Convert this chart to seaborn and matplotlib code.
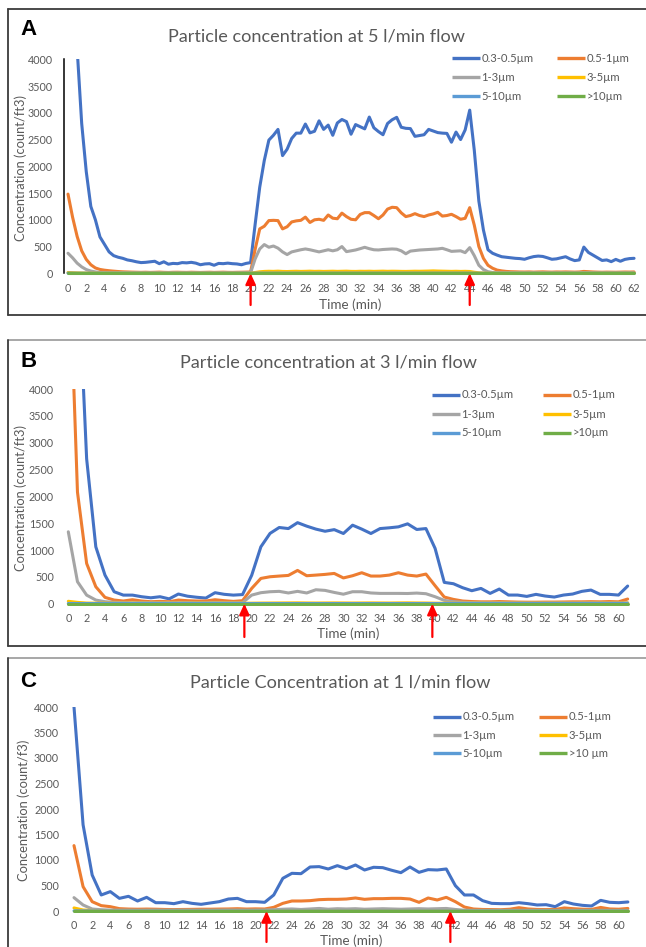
import numpy as np
import pandas as pd
import matplotlib
matplotlib.use("Agg")
import matplotlib.pyplot as plt
import seaborn as sns
from matplotlib.lines import Line2D

# ---------------- data ----------------
size_labels = ["0.3-0.5µm", "0.5-1µm", "1-3µm", "3-5µm", "5-10µm", ">10µm"]
size_labels_C = ["0.3-0.5µm", "0.5-1µm", "1-3µm", "3-5µm", "5-10µm", ">10 µm"]
series_colors = ["#4472C4", "#ED7D31", "#A5A5A5", "#FFC000", "#5B9BD5", "#70AD47"]

panel_letters = ["A", "B", "C"]
titles = ["Particle concentration at 5 l/min flow",
          "Particle concentration at 3 l/min flow",
          "Particle Concentration at 1 l/min flow"]
ylabels = ["Concentration (count/ft3)", "Concentration (count/ft3)",
           "Concentration (count/f3)"]
xlabel = "Time (min)"
y_ticks = [0, 500, 1000, 1500, 2000, 2500, 3000, 3500, 4000]
x_ticks_A = list(range(0, 63, 2))
x_ticks_BC = list(range(0, 61, 2))

time_A = np.arange(0, 62.5, 0.5)
time_B = np.arange(0, 62)
time_C = np.arange(0, 62)

# Panel A (5 l/min), 0.5 min resolution
A_03_05 = [9000, 6500, 4200, 2800, 1900, 1250, 1000, 680, 540, 400,
           330, 300, 280, 250, 235, 215, 200, 205, 215, 225,
           180, 215, 170, 185, 180, 200, 195, 205, 190, 160,
           175, 180, 150, 185, 180, 190, 180, 175, 160, 185,
           200, 920, 1610, 2110, 2490, 2580, 2690, 2200, 2320, 2520,
           2620, 2620, 2790, 2625, 2655, 2850, 2690, 2770, 2580, 2810,
           2875, 2835, 2600, 2780, 2740, 2700, 2920, 2720, 2650, 2590,
           2800, 2870, 2915, 2730, 2710, 2705, 2560, 2575, 2590, 2690,
           2660, 2630, 2620, 2615, 2450, 2640, 2500, 2680, 3050, 2300,
           1350, 810, 440, 375, 340, 310, 300, 290, 280, 275,
           262, 290, 312, 322, 315, 290, 262, 270, 290, 310,
           268, 237, 250, 490, 390, 340, 290, 240, 250, 218,
           260, 225, 260, 275, 280]
A_05_1 = [1480, 1050, 690, 420, 260, 160, 100, 72, 58, 48,
          40, 33, 28, 25, 22, 20, 18, 20, 17, 19,
          22, 18, 16, 19, 20, 18, 17, 20, 18, 16,
          18, 20, 17, 19, 21, 18, 17, 19, 20, 22,
          25, 450, 830, 880, 985, 990, 985, 830, 870, 960,
          980, 990, 1050, 950, 1000, 1010, 990, 1090, 1030, 1020,
          1125, 1060, 1010, 1000, 1100, 1134, 1134, 1080, 1020, 1090,
          1200, 1234, 1227, 1130, 1060, 1080, 1115, 1080, 1060, 1090,
          1110, 1140, 1070, 1080, 1103, 1060, 1010, 1028, 1227, 900,
          500, 280, 150, 95, 60, 45, 35, 30, 28, 25,
          24, 26, 22, 25, 27, 24, 22, 25, 24, 26,
          24, 22, 25, 35, 30, 25, 22, 20, 22, 21,
          20, 22, 24, 23, 25]
A_1_3 = [375, 290, 190, 120, 70, 42, 26, 16, 12, 10,
         9, 8, 10, 9, 8, 10, 9, 8, 9, 10,
         9, 8, 9, 10, 8, 9, 10, 9, 8, 9,
         10, 9, 8, 9, 10, 9, 8, 9, 10, 9,
         10, 270, 456, 537, 487, 510, 470, 400, 350, 400,
         420, 440, 455, 440, 420, 400, 420, 440, 420, 440,
         500, 405, 420, 436, 460, 486, 460, 440, 436, 445,
         450, 455, 450, 420, 365, 415, 425, 435, 440, 445,
         450, 455, 467, 440, 410, 415, 420, 386, 480, 330,
         150, 70, 30, 15, 10, 9, 8, 9, 8, 9,
         8, 9, 10, 8, 9, 8, 9, 8, 9, 8,
         9, 8, 9, 12, 10, 9, 8, 9, 8, 9,
         8, 9, 8, 9, 8]
A_3_5 = [15, 12, 9, 7, 6, 5, 5, 4, 4, 4,
         4, 4, 4, 4, 4, 4, 4, 4, 4, 4,
         4, 4, 4, 4, 4, 4, 4, 4, 4, 4,
         4, 4, 4, 4, 4, 4, 4, 4, 4, 4,
         5, 15, 28, 35, 38, 36, 40, 35, 33, 36,
         38, 35, 37, 40, 36, 38, 35, 37, 39, 36,
         38, 40, 36, 35, 38, 37, 39, 36, 38, 40,
         37, 39, 38, 36, 35, 37, 39, 38, 40, 42,
         45, 42, 40, 38, 36, 38, 35, 37, 34, 20,
         10, 6, 5, 4, 4, 4, 4, 4, 4, 4,
         4, 4, 4, 4, 4, 4, 4, 4, 4, 4,
         4, 4, 4, 4, 4, 4, 4, 4, 4, 4,
         4, 4, 4, 4, 4]
A_5_10 = [3, 3, 2, 2, 2, 2, 2, 2, 2, 2,
          2, 2, 2, 2, 2, 2, 2, 2, 2, 2,
          2, 2, 2, 2, 2, 2, 2, 2, 2, 2,
          2, 2, 2, 2, 2, 2, 2, 2, 2, 2,
          2, 3, 3, 3, 3, 3, 3, 3, 3, 3,
          3, 3, 3, 3, 3, 3, 3, 3, 3, 3,
          3, 3, 3, 3, 3, 3, 3, 3, 3, 3,
          3, 3, 3, 3, 3, 3, 3, 3, 3, 3,
          3, 3, 3, 3, 3, 3, 3, 3, 3, 2,
          2, 2, 2, 2, 2, 2, 2, 2, 2, 2,
          2, 2, 2, 2, 2, 2, 2, 2, 2, 2,
          2, 2, 2, 2, 2, 2, 2, 2, 2, 2,
          2, 2, 2, 2, 2]
A_10 = [0, 0, 0, 0, 0, 0, 0, 0, 0, 0,
        0, 0, 0, 0, 0, 0, 0, 0, 0, 0,
        0, 0, 0, 0, 0, 0, 0, 0, 0, 0,
        0, 0, 0, 0, 0, 0, 0, 0, 0, 0,
        0, 0, 0, 0, 0, 0, 0, 0, 0, 0,
        0, 0, 0, 0, 0, 0, 0, 0, 0, 0,
        0, 0, 0, 0, 0, 0, 0, 0, 0, 0,
        0, 0, 0, 0, 0, 0, 0, 0, 0, 0,
        0, 0, 0, 0, 0, 0, 0, 0, 0, 0,
        0, 0, 0, 0, 0, 0, 0, 0, 0, 0,
        0, 0, 0, 0, 0, 0, 0, 0, 0, 0,
        0, 0, 0, 0, 0, 0, 0, 0, 0, 0,
        0, 0, 0, 0, 0]

# Panel B (3 l/min), 1 min resolution
B_03_05 = [9000, 6500, 2700, 1060, 533, 223, 160, 160, 130, 110,
           130, 90, 180, 140, 120, 105, 205, 175, 160, 170,
           530, 1060, 1310, 1420, 1400, 1510, 1445, 1390, 1350, 1380,
           1308, 1463, 1390, 1308, 1400, 1414, 1432, 1488, 1383, 1400,
           1030, 397, 372, 298, 242, 285, 192, 273, 161, 161,
           136, 174, 143, 124, 161, 180, 230, 254, 174, 174,
           161, 329]
B_05_1 = [7000, 2080, 750, 316, 118, 68, 50, 74, 50, 37,
          43, 37, 68, 56, 50, 50, 74, 56, 43, 56,
          285, 471, 502, 515, 527, 620, 521, 533, 546, 564,
          480, 521, 577, 515, 515, 533, 577, 533, 515, 552,
          335, 124, 80, 50, 40, 35, 35, 40, 35, 30,
          28, 28, 30, 30, 32, 35, 35, 38, 35, 40,
          35, 87]
B_1_3 = [1340, 410, 160, 68, 37, 25, 20, 18, 20, 19,
         18, 20, 19, 21, 18, 19, 22, 20, 19, 20,
         160, 205, 223, 230, 200, 230, 200, 260, 248, 210,
         177, 223, 223, 200, 192, 192, 192, 190, 198, 186,
         130, 62, 37, 25, 20, 18, 17, 18, 16, 17,
         16, 15, 16, 17, 16, 15, 16, 17, 16, 15,
         16, 18]
B_3_5 = [45, 25, 12, 10, 9, 8, 8, 9, 8, 8,
         8, 9, 8, 8, 9, 8, 8, 9, 8, 8,
         10, 12, 13, 14, 15, 16, 14, 13, 14, 15,
         14, 13, 14, 15, 14, 13, 15, 16, 14, 13,
         10, 9, 8, 8, 8, 8, 8, 8, 8, 8,
         8, 8, 8, 8, 8, 8, 8, 8, 8, 8,
         8, 9]
B_5_10 = [4, 3, 3, 3, 3, 3, 3, 3, 3, 3,
          3, 3, 3, 3, 3, 3, 3, 3, 3, 3,
          3, 3, 3, 3, 3, 3, 3, 3, 3, 3,
          3, 3, 3, 3, 3, 3, 3, 3, 3, 3,
          3, 3, 3, 3, 3, 3, 3, 3, 3, 3,
          3, 3, 3, 3, 3, 3, 3, 3, 3, 3,
          3, 3]
B_10 = [2, 2, 2, 2, 2, 2, 2, 2, 2, 2,
        2, 2, 2, 2, 2, 2, 2, 2, 2, 2,
        2, 2, 2, 2, 2, 2, 2, 2, 2, 2,
        2, 2, 2, 2, 2, 2, 2, 2, 2, 2,
        2, 2, 2, 2, 2, 2, 2, 2, 2, 2,
        2, 2, 2, 2, 2, 2, 2, 2, 2, 2,
        2, 2]

# Panel C (1 l/min), 1 min resolution
C_03_05 = [4000, 1690, 706, 314, 380, 248, 288, 196, 268, 163,
           163, 144, 183, 150, 131, 157, 183, 235, 248, 183,
           183, 170, 314, 641, 739, 732, 863, 870, 824, 889,
           830, 902, 804, 857, 850, 798, 752, 863, 758, 811,
           804, 824, 497, 314, 314, 203, 150, 144, 144, 163,
           144, 118, 124, 85, 183, 137, 111, 98, 209, 170,
           163, 177]
C_05_1 = [1282, 477, 183, 105, 85, 46, 38, 35, 38, 35,
          30, 28, 30, 32, 35, 35, 38, 40, 45, 38,
          42, 39, 72, 150, 196, 196, 203, 222, 229, 229,
          235, 255, 229, 242, 242, 248, 248, 235, 170, 255,
          216, 268, 183, 78, 39, 30, 28, 25, 35, 65,
          40, 30, 28, 30, 60, 45, 35, 30, 70, 40,
          35, 50]
C_1_3 = [262, 118, 39, 25, 18, 16, 17, 15, 16, 17,
         15, 16, 17, 16, 15, 16, 17, 18, 17, 16,
         17, 18, 25, 35, 40, 30, 40, 50, 35, 45,
         40, 45, 35, 40, 45, 40, 35, 40, 45, 40,
         45, 50, 30, 15, 12, 12, 12, 12, 12, 12,
         12, 12, 12, 12, 12, 12, 12, 12, 12, 12,
         12, 12]
C_3_5 = [60, 20, 10, 8, 7, 6, 6, 6, 6, 6,
         6, 6, 6, 6, 6, 6, 6, 6, 6, 6,
         6, 6, 7, 8, 8, 8, 8, 8, 8, 8,
         8, 8, 8, 8, 8, 8, 8, 8, 8, 8,
         8, 8, 7, 6, 6, 6, 6, 6, 6, 6,
         6, 6, 6, 6, 6, 6, 6, 6, 6, 6,
         6, 6]
C_5_10 = [3, 2, 2, 2, 2, 2, 2, 2, 2, 2,
          2, 2, 2, 2, 2, 2, 2, 2, 2, 2,
          2, 2, 2, 2, 2, 2, 2, 2, 2, 2,
          2, 2, 2, 2, 2, 2, 2, 2, 2, 2,
          2, 2, 2, 2, 2, 2, 2, 2, 2, 2,
          2, 2, 2, 2, 2, 2, 2, 2, 2, 2,
          2, 2]
C_10 = [0, 0, 0, 0, 0, 0, 0, 0, 0, 0,
        0, 0, 0, 0, 0, 0, 0, 0, 0, 0,
        0, 0, 0, 0, 0, 0, 0, 0, 0, 0,
        0, 0, 0, 0, 0, 0, 0, 0, 0, 0,
        0, 0, 0, 0, 0, 0, 0, 0, 0, 0,
        0, 0, 0, 0, 0, 0, 0, 0, 0, 0,
        0, 0]

# red arrows (times at which the markers sit)
arrows_A = [20, 44]
arrows_B = [19.2, 39.7]
arrows_C = [21.2, 41.45]

# ---------------- styling ----------------
sns.set_theme(style="white")
plt.rcParams["font.family"] = ["Lato", "DejaVu Sans"]
TXT = "#595959"

W, H = 646, 947
fig = plt.figure(figsize=(W / 100, H / 100), dpi=100)
fig.patch.set_facecolor("white")
renderer = fig.canvas.get_renderer()


def fx(x):
    return x / W


def fy(y):
    return 1 - y / H


def size_for(text, target_px):
    t = fig.text(0, 0, text, fontsize=10)
    w = t.get_window_extent(renderer).width
    t.remove()
    return 10.0 * target_px / w


TITLE_FS = size_for(titles[0], 298)
TICK_FS = size_for("4000", 25)
LEG_FS = size_for("0.3-0.5µm", 52.3)
YLAB_FS = size_for(ylabels[0], 147)
XLAB_FS = size_for(xlabel, 62)

panels = [
    dict(time=time_A, series=[A_03_05, A_05_1, A_1_3, A_3_5, A_5_10, A_10],
         labels=size_labels, xticks=x_ticks_A, arrows=arrows_A,
         t0=68.0, ppm=9.13, xlim=(-0.4, 62.3), y0=273.3, ppk=53.5,
         spine=True, xl_top=298, arrow_tail=305,
         leg_h=(451.7, 556.7), leg_rows=(58.3, 77.3, 96.0),
         title_xy=(316, 36), letter_xy=(20, 35), yl_x=27.5),
    dict(time=time_B, series=[B_03_05, B_05_1, B_1_3, B_3_5, B_5_10, B_10],
         labels=size_labels, xticks=x_ticks_BC, arrows=arrows_B,
         t0=68.3, ppm=9.17, xlim=(-0.3, 61.3), y0=603.7, ppk=53.67,
         spine=False, xl_top=627, arrow_tail=637,
         leg_h=(431.7, 542.7), leg_rows=(395.0, 414.0, 433.0),
         title_xy=(328, 363), letter_xy=(20, 366.7), yl_x=27.5),
    dict(time=time_C, series=[C_03_05, C_05_1, C_1_3, C_3_5, C_5_10, C_10],
         labels=size_labels_C, xticks=x_ticks_BC, arrows=arrows_C,
         t0=74.0, ppm=9.08, xlim=(-0.35, 61.3), y0=911.0, ppk=51.0,
         spine=False, xl_top=934, arrow_tail=942,
         leg_h=(432.7, 539.0), leg_rows=(716.7, 735.0, 753.3),
         title_xy=(340, 682), letter_xy=(20, 686.7), yl_x=30.5),
]

YMIN = -45
HANDLE_LEN = 28.3

for i, p in enumerate(panels):
    x0 = p["t0"] + p["xlim"][0] * p["ppm"]
    x1 = p["t0"] + p["xlim"][1] * p["ppm"]
    ytop = p["y0"] - 4.0 * p["ppk"]
    ybot = p["y0"] - YMIN / 1000 * p["ppk"]
    ax = fig.add_axes([fx(x0), fy(ybot), (x1 - x0) / W, (ybot - ytop) / H])
    ax.set_facecolor("none")

    n = len(p["time"])
    for s in p["series"]:
        assert len(s) == n, (i, len(s), n)
    df = pd.DataFrame({
        "Time": np.tile(p["time"], 6),
        "Conc": np.concatenate([np.asarray(s, float) for s in p["series"]]),
        "Size": np.repeat(p["labels"], n),
    })
    sns.lineplot(data=df, x="Time", y="Conc", hue="Size", hue_order=p["labels"],
                 palette=series_colors, linewidth=2.2, ax=ax, legend=False,
                 estimator=None, sort=False, solid_joinstyle="round",
                 solid_capstyle="round")

    ax.set_xlim(*p["xlim"])
    ax.set_ylim(YMIN, 4000)
    ax.set_xticks(p["xticks"])
    ax.set_yticks(y_ticks)
    ax.tick_params(length=0, labelsize=TICK_FS, colors=TXT)
    ax.tick_params(axis="x", pad=5.0)
    ax.tick_params(axis="y", pad=8.5)
    for side in ["top", "right", "bottom"]:
        ax.spines[side].set_visible(False)
    if p["spine"]:
        ax.spines["left"].set_color("black")
        ax.spines["left"].set_linewidth(1.1)
        ax.spines["left"].set_bounds(0, 4000)
    else:
        ax.spines["left"].set_visible(False)
    ax.grid(False)

    axh = ybot - ytop
    axw = x1 - x0
    ax.set_xlabel(xlabel, fontsize=XLAB_FS, color=TXT, va="top")
    ax.xaxis.set_label_coords(0.5, (ybot - p["xl_top"]) / axh)
    ax.set_ylabel(ylabels[i], fontsize=YLAB_FS, color=TXT)
    ax.yaxis.set_label_coords((p["yl_x"] - x0) / axw, 0.5)

    # legend, row-major order as in the original (2 columns x 3 rows)
    lines = ax.get_lines()[:6]
    for k, line in enumerate(lines):
        col, row = k % 2, k // 2
        hx = p["leg_h"][col]
        ry = p["leg_rows"][row]
        fig.add_artist(Line2D([fx(hx), fx(hx + HANDLE_LEN)], [fy(ry), fy(ry)],
                              color=line.get_color(), lw=2.4,
                              solid_capstyle="butt"))
        fig.text(fx(hx + HANDLE_LEN + 1.5), fy(ry), p["labels"][k],
                 fontsize=LEG_FS, color=TXT, ha="left", va="center")

    # red arrows
    tail_frac = (ybot - p["arrow_tail"]) / axh
    for ta in p["arrows"]:
        ax.annotate("", xy=(ta, 0), xycoords="data",
                    xytext=(ta, tail_frac), textcoords=("data", "axes fraction"),
                    arrowprops=dict(arrowstyle="-|>,head_length=0.65,head_width=0.3",
                                    color="#FF0000", lw=1.6, shrinkA=0, shrinkB=0,
                                    mutation_scale=10),
                    annotation_clip=False)

    # title and panel letter
    fig.text(fx(p["title_xy"][0]), fy(p["title_xy"][1]), titles[i],
             fontsize=TITLE_FS, color=TXT, ha="center", va="center")
    fig.text(fx(p["letter_xy"][0]), fy(p["letter_xy"][1]), panel_letters[i],
             fontsize=16, fontweight="bold", color="black", ha="left",
             va="baseline", family=["Liberation Sans", "DejaVu Sans"])

# panel frames
DARK = "#3c3c3c"
GREY = "#a0a0a0"
frames = [(9.3, 315.0, DARK), (340.0, 645.7, GREY), (658.3, 960.0, GREY)]
for top, bot, tcol in frames:
    fig.add_artist(Line2D([fx(8.3), fx(660)], [fy(top), fy(top)], color=tcol, lw=1.3))
    fig.add_artist(Line2D([fx(8.3), fx(8.3)], [fy(top), fy(bot)], color=DARK, lw=1.3))
    fig.add_artist(Line2D([fx(8.3), fx(660)], [fy(bot), fy(bot)], color=DARK, lw=1.3))

fig.savefig("out.png", dpi=100, facecolor="white")
